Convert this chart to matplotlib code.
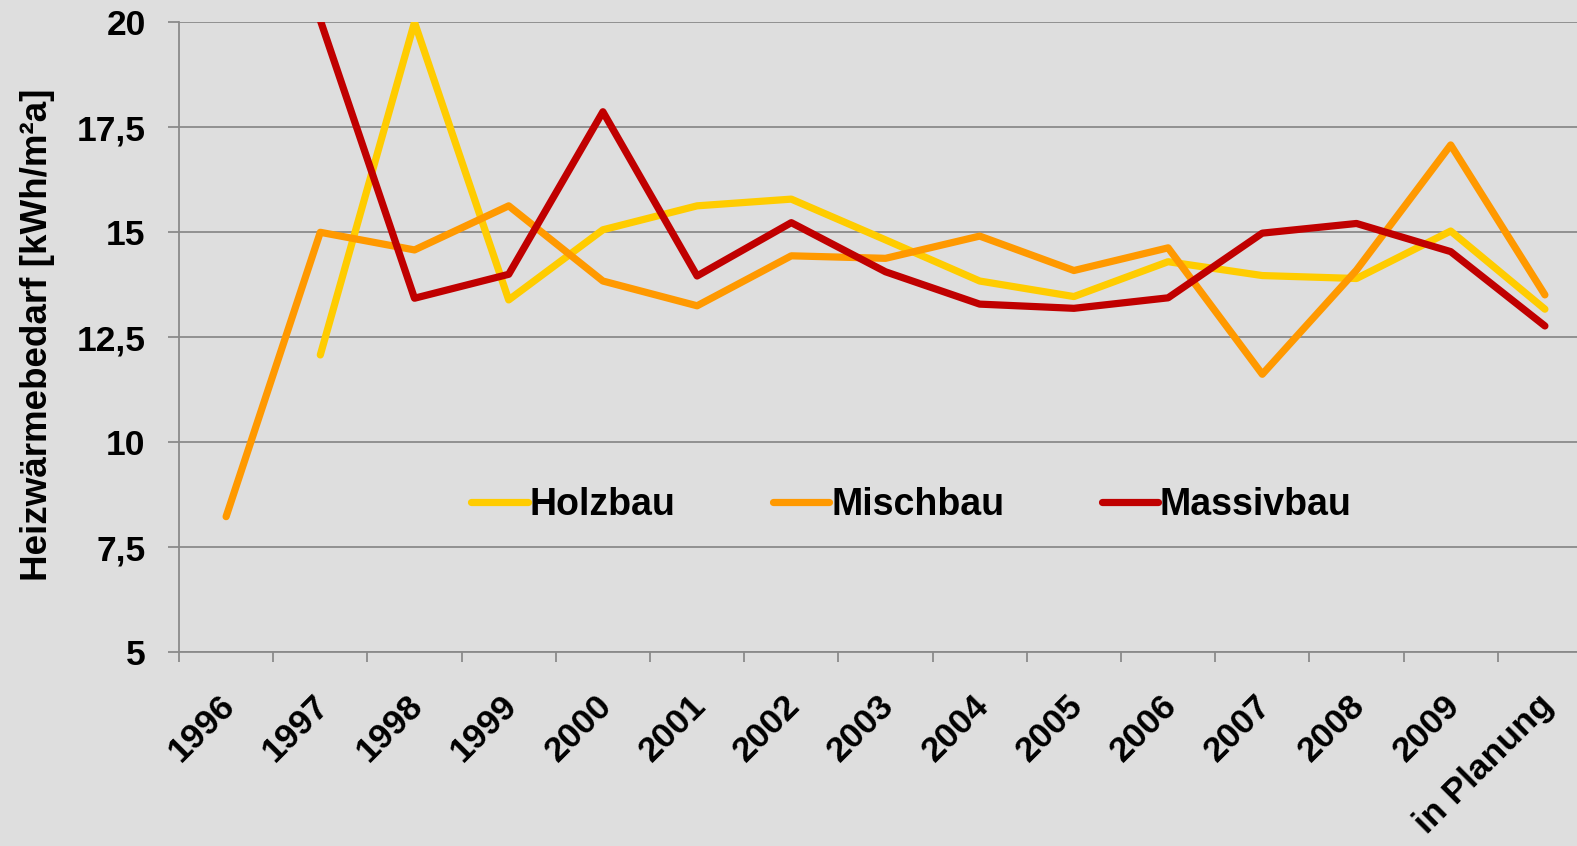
import numpy as np
import matplotlib
matplotlib.use("Agg")
import matplotlib.pyplot as plt
import matplotlib.transforms as mtransforms
from matplotlib.ticker import FixedLocator, FuncFormatter

jahre = ["1996", "1997", "1998", "1999", "2000", "2001", "2002", "2003",
         "2004", "2005", "2006", "2007", "2008", "2009", "in Planung"]
holzbau = [np.nan, 12.08, 20.0, 13.39, 15.06, 15.63, 15.79, 14.82,
           13.84, 13.47, 14.30, 13.97, 13.90, 15.03, 13.17]
mischbau = [8.23, 15.0, 14.58, 15.63, 13.84, 13.25, 14.44, 14.38,
            14.91, 14.09, 14.63, 11.62, 14.10, 17.08, 13.51]
massivbau = [np.nan, 20.05, 13.43, 14.0, 17.87, 13.96, 15.23, 14.06,
             13.29, 13.19, 13.44, 14.98, 15.21, 14.54, 12.77]

bg = "#dedede"
grid_c = "#8a8a8a"
plt.rcParams['font.family'] = ['Liberation Sans', 'DejaVu Sans']
plt.rcParams['font.weight'] = 'bold'

fig = plt.figure(figsize=(15.77, 8.46), dpi=100)
fig.patch.set_facecolor(bg)
# plot area runs a little past the right edge of the figure
ax = fig.add_axes([179/1577, (846-652.3)/846, (1592-179)/1577, 630/846])
ax.set_facecolor(bg)

x = np.arange(len(jahre))
kw = dict(linewidth=5.2, solid_capstyle='round', solid_joinstyle='round')
ax.plot(x, holzbau, color="#ffcc00", label="Holzbau", **kw)
ax.plot(x, mischbau, color="#ff9900", label="Mischbau", **kw)
ax.plot(x, massivbau, color="#c00000", label="Massivbau", **kw)

ax.set_xlim(-0.5, len(jahre) - 0.5)
ax.set_ylim(5, 20)
ax.set_yticks(np.arange(5, 20.1, 2.5))
ax.yaxis.set_major_formatter(FuncFormatter(
    lambda v, p: ("%g" % v).replace(".", ",")))
ax.grid(axis='y', color=grid_c, linewidth=1.3)
ax.set_axisbelow(True)

for s in ['top', 'right']:
    ax.spines[s].set_visible(False)
for s in ['left', 'bottom']:
    ax.spines[s].set_color(grid_c)
    ax.spines[s].set_linewidth(1.3)

ax.xaxis.set_minor_locator(FixedLocator(np.arange(-0.5, len(jahre), 1.0)))
ax.tick_params(axis='x', which='major', length=0, pad=22)
ax.tick_params(axis='x', which='minor', length=7, width=1.3, color=grid_c)
ax.tick_params(axis='y', length=8, width=1.3, color=grid_c, pad=16,
               labelsize=25.5)
for t in ax.get_yticklabels():
    t.set_fontweight('bold')

ax.set_xticks(x)
ax.set_xticklabels(jahre, rotation=45, ha='right', va='top',
                   rotation_mode='anchor', fontsize=25.5, fontweight='bold')
# nudge the slanted year labels a bit left and down
shift = mtransforms.ScaledTranslation(-8/100, -6/100, fig.dpi_scale_trans)
for t in ax.get_xticklabels():
    t.set_transform(t.get_transform() + shift)

fig.text(38/1577, 1 - 335/846, "Heizwärmebedarf [kWh/m²a]", rotation=90,
         ha='center', va='center', fontsize=26.5, fontweight='bold')

leg = ax.legend(loc='center', bbox_to_anchor=((478+1345)/2/1577, 1 - 505/846),
                bbox_transform=fig.transFigure, ncol=3, frameon=False,
                handlelength=1.5, handletextpad=0.05, columnspacing=2.6,
                prop={'size': 27, 'weight': 'bold'})

fig.savefig("out.png", dpi=100, facecolor=bg)
